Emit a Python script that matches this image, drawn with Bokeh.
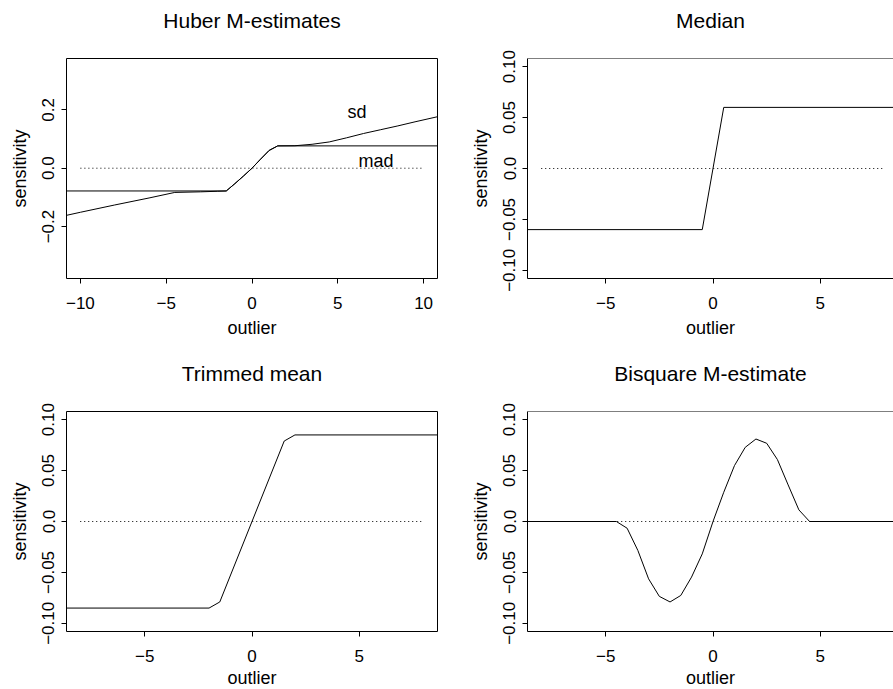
from bokeh.plotting import figure
from bokeh.layouts import row, column
from bokeh.models import FixedTicker, Span, Range1d
from bokeh.core.properties import value
from bokeh.embed import file_html
from bokeh.resources import INLINE

FONT = "Liberation Sans"

# ---------------- data ----------------
# Huber M-estimates (two scale estimates)
huber_sd_x = [-11, -10, -8, -6, -4.5, -3, -2, -1.5, -1, -0.5, 0, 0.5, 1, 1.5,
              2.5, 3.5, 4.5, 5.5, 6.5, 7.5, 8.5, 9.5, 11]
huber_sd_y = [-0.164, -0.151, -0.126, -0.102, -0.083, -0.081, -0.079, -0.078,
              -0.053, -0.027, 0.0, 0.031, 0.061, 0.0765,
              0.077, 0.082, 0.090, 0.104, 0.119, 0.132, 0.145, 0.159, 0.179]
huber_mad_x = [-11, -1.5, -1, -0.5, 0, 0.5, 1, 1.5, 11]
huber_mad_y = [-0.078, -0.078, -0.053, -0.027, 0.0, 0.031, 0.061, 0.0765, 0.0765]
huber_labels = ["sd", "mad"]
huber_label_x = [6.12, 7.22]
huber_label_y = [0.193, 0.025]

# Median
median_x = [-10, -0.5, 0.5, 10]
median_y = [-0.06, -0.06, 0.06, 0.06]

# Trimmed mean
trim_x = [-10, -2, -1.5, 1.5, 2, 10]
trim_y = [-0.085, -0.085, -0.079, 0.079, 0.085, 0.085]

# Bisquare M-estimate
bisq_x = [-10, -4.5, -4, -3.5, -3, -2.5, -2, -1.5, -1, -0.5, 0,
          0.5, 1, 1.5, 2, 2.5, 3, 3.5, 4, 4.5, 10]
bisq_y = [0, 0, -0.0066, -0.0284, -0.0563, -0.0735, -0.079, -0.0726, -0.0546, -0.0318, 0,
          0.0287, 0.0549, 0.0728, 0.081, 0.0768, 0.0608, 0.0359, 0.0114, 0, 0]

# zero reference lines
zero_x_huber = [-10, 10]
zero_x_other = [-8, 8]
zero_y = [0, 0]

# ticks
huber_xticks = [-10, -5, 0, 5, 10]
huber_xlabels = ["\u221210", "\u22125", "0", "5", "10"]
huber_yticks = [-0.2, 0.0, 0.2]
huber_ylabels = ["\u22120.2", "0.0", "0.2"]
other_xticks = [-5, 0, 5]
other_xlabels = ["\u22125", "0", "5"]
other_yticks = [-0.10, -0.05, 0.0, 0.05, 0.10]
other_ylabels = ["\u22120.10", "\u22120.05", "0.0", "0.05", "0.10"]

titles = ["Huber M-estimates", "Median", "Trimmed mean", "Bisquare M-estimate"]
xlab = "outlier"
ylab = "sensitivity"

# ---------------- layout constants ----------------
MB_LEFT = 66
FRAME_W = 371
FRAME_W_CLIP = 366
FRAME_H = 220
TITLE_STANDOFF = 54
MB_TOP = 78
ROOT_SHIFT_UP = 21
ROW2_SHIFT_UP = 10
LEFT_MB_RIGHT = 24
TOP_ROW_MB_BOTTOM = 64
BOTTOM_ROW_MB_BOTTOM = 60

HUBER_X = (-10.81, 10.81)
HUBER_Y = (-0.378, 0.376)
OTHER_X = (-8.64, 8.64)
OTHER_Y = (-0.108, 0.108)


def make_panel(title, xlim, ylim, xticks, xlabels, yticks, ylabels, right_col, top_row):
    if right_col:
        fw = FRAME_W_CLIP
        xr = Range1d(xlim[0], xlim[0] + (xlim[1] - xlim[0]) * FRAME_W_CLIP / FRAME_W)
        mbr = 0
    else:
        fw = FRAME_W
        xr = Range1d(xlim[0], xlim[1])
        mbr = LEFT_MB_RIGHT
    p = figure(frame_width=fw, frame_height=FRAME_H, x_range=xr,
               y_range=Range1d(ylim[0], ylim[1]),
               output_backend="svg", toolbar_location=None, title=title,
               min_border_left=MB_LEFT, min_border_right=mbr,
               min_border_top=MB_TOP,
               min_border_bottom=TOP_ROW_MB_BOTTOM if top_row else BOTTOM_ROW_MB_BOTTOM,
               background_fill_color="white", border_fill_color=None)
    p.grid.visible = False
    p.title.text_font = FONT
    p.title.text_font_size = "21px"
    p.title.text_font_style = "normal"
    p.title.text_color = "black"
    p.title.align = "center"
    p.title.standoff = TITLE_STANDOFF
    if right_col:
        p.outline_line_color = None
        p.add_layout(Span(location=ylim[1], dimension="width",
                          line_color="black", line_width=1))
    else:
        p.outline_line_color = "black"
        p.outline_line_width = 1
        p.outline_line_alpha = 1

    for ax in (p.xaxis[0], p.yaxis[0]):
        ax.major_tick_out = 5
        ax.major_tick_in = 0
        ax.minor_tick_line_color = None
        ax.major_tick_line_color = "black"
        ax.major_label_text_font = FONT
        ax.major_label_text_font_size = "17px"
        ax.major_label_text_color = "black"
        ax.axis_label_text_font = FONT
        ax.axis_label_text_font_size = "18px"
        ax.axis_label_text_font_style = "normal"
        ax.axis_label_text_color = "black"
        ax.axis_line_color = "black" if right_col else None

    xa = p.xaxis[0]
    xa.ticker = FixedTicker(ticks=xticks)
    xa.major_label_overrides = dict(zip(xticks, xlabels))
    xa.major_label_standoff = 13
    xa.axis_label = xlab
    xa.axis_label_standoff = 6 if top_row else 3

    ya = p.yaxis[0]
    ya.ticker = FixedTicker(ticks=yticks)
    ya.major_label_overrides = dict(zip(yticks, ylabels))
    ya.major_label_orientation = "vertical"
    ya.major_label_standoff = 7
    ya.axis_label = ylab
    ya.axis_label_standoff = 10
    return p


p1 = make_panel(titles[0], HUBER_X, HUBER_Y, huber_xticks, huber_xlabels,
                huber_yticks, huber_ylabels, False, True)
p1.line(zero_x_huber, zero_y, line_color="black", line_width=1, line_dash="1 3")
p1.line(huber_mad_x, huber_mad_y, line_color="black", line_width=1)
p1.line(huber_sd_x, huber_sd_y, line_color="black", line_width=1)
p1.text(x=huber_label_x, y=huber_label_y, text=huber_labels,
        text_font=value(FONT), text_font_size="18px", text_color="black",
        text_align="center", text_baseline="middle")

p2 = make_panel(titles[1], OTHER_X, OTHER_Y, other_xticks, other_xlabels,
                other_yticks, other_ylabels, True, True)
p2.line(zero_x_other, zero_y, line_color="black", line_width=1, line_dash="1 3")
p2.line(median_x, median_y, line_color="black", line_width=1)

p3 = make_panel(titles[2], OTHER_X, OTHER_Y, other_xticks, other_xlabels,
                other_yticks, other_ylabels, False, False)
p3.line(zero_x_other, zero_y, line_color="black", line_width=1, line_dash="1 3")
p3.line(trim_x, trim_y, line_color="black", line_width=1)

p4 = make_panel(titles[3], OTHER_X, OTHER_Y, other_xticks, other_xlabels,
                other_yticks, other_ylabels, True, False)
p4.line(zero_x_other, zero_y, line_color="black", line_width=1, line_dash="1 3")
p4.line(bisq_x, bisq_y, line_color="black", line_width=1)

top_row = row(p1, p2)
bottom_row = row(p3, p4, styles={"margin-top": f"-{ROW2_SHIFT_UP}px"})
root = column(top_row, bottom_row,
              styles={"margin-top": f"-{ROOT_SHIFT_UP}px"})

open("out.html", "w").write(file_html(root, INLINE, title="Sensitivity curves"))
